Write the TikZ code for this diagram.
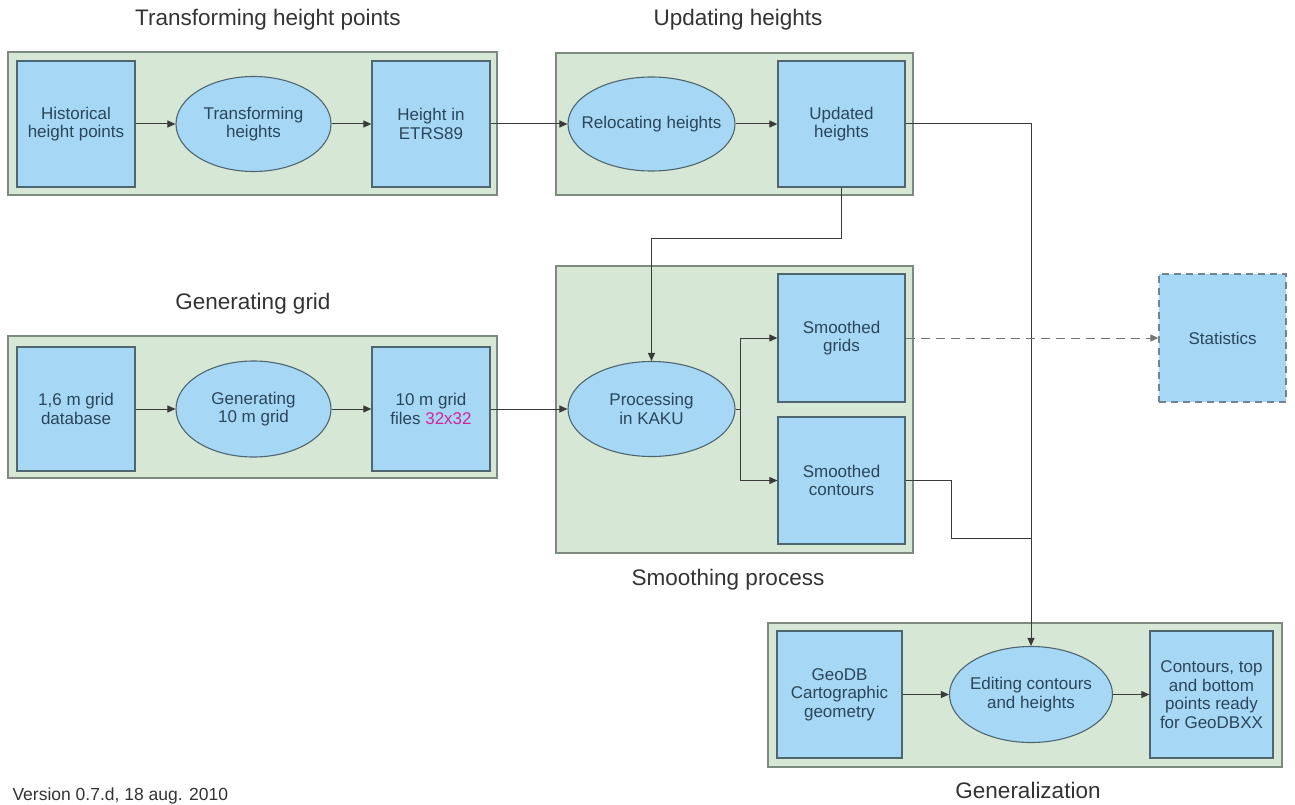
\documentclass[tikz,border=0pt]{standalone}
\usepackage{fontspec}
\setmainfont{Liberation Sans}
\usetikzlibrary{shapes.geometric,arrows.meta}
\definecolor{boxblue}{HTML}{A6D8F5}
\definecolor{boxline}{HTML}{4F6670}
\definecolor{panelfill}{HTML}{D7E7D6}
\definecolor{panelline}{HTML}{7D8A80}
\definecolor{txt}{HTML}{2A465A}
\definecolor{wire}{HTML}{3A3A3A}
\definecolor{pink}{HTML}{D4239C}
\tikzset{
  panel/.style={fill=panelfill,draw=panelline,line width=1.6pt},
  box/.style={rectangle,draw=boxline,fill=boxblue,line width=1.3pt,inner sep=0pt,
    align=center,text=txt,font=\fontsize{17}{18.5}\selectfont},
  ell/.style={ellipse,draw=boxline,fill=boxblue,line width=1.1pt,inner sep=0pt},
  elltext/.style={align=center,text=txt,font=\fontsize{17}{18.5}\selectfont},
  title/.style={font=\fontsize{22.5}{24}\selectfont,text=black!80},
  arr/.style={draw=wire,line width=1pt,-{Triangle[length=8pt,width=7pt]}},
  wireline/.style={draw=wire,line width=1pt},
}
\begin{document}
\begin{tikzpicture}[x=1pt,y=-1pt]
\useasboundingbox (0,0) rectangle (1295,805);
% panels
\path[panel] (8,52) rectangle (497,195);
\path[panel] (556,53) rectangle (913,195);
\path[panel] (8,336) rectangle (497,478);
\path[panel] (556,266) rectangle (913,553);
\path[panel] (768,623) rectangle (1282,767);
% titles
\node[title] (t1) at (268,20) {Transforming height points};
\node[title] (t2) at (738,20) {Updating heights};
\node[title] (t3) at (253,304) {Generating grid};
\node[title] (t4) at (728,580) {Smoothing process};
\node[title] (t5) at (1028,790) {Generalization};
\node[anchor=base west,font=\fontsize{17.5}{18}\selectfont,text=black!80] (ver) at (9,800) {Version 0.7.d, 18 aug. 2010};
% row 1
\node[box,minimum width=118,minimum height=126] (hist) at (76,124) {Historical\\height points};
\node[ell,minimum width=155,minimum height=95] (trans) at (253.5,124) {};
\node[elltext] (transt) at (trans.center) {Transforming\\heights};
\node[box,minimum width=118,minimum height=126] (etrs) at (431,124) {Height in\\ETRS89};
\node[ell,minimum width=167,minimum height=94] (reloc) at (651.5,124) {};
\node[elltext] (reloct) at (reloc.center) {Relocating heights};
\node[box,minimum width=127,minimum height=126] (upd) at (841.5,124) {Updated\\heights};
% row 2
\node[box,minimum width=118,minimum height=124] (g16) at (76,409) {1,6 m grid\\database};
\node[ell,minimum width=155,minimum height=96] (gen) at (253.5,409) {};
\node[elltext] (gent) at (gen.center) {Generating\\10 m grid};
\node[box,minimum width=118,minimum height=124] (g10) at (431,409) {10 m grid\\files \textcolor{pink}{32x32}};
\node[ell,minimum width=167,minimum height=95] (proc) at (651.5,409) {};
\node[elltext] (proct) at (proc.center) {Processing\\in KAKU};
\node[box,minimum width=127,minimum height=128] (sgrid) at (841.5,338) {Smoothed\\grids};
\node[box,minimum width=127,minimum height=127] (scont) at (841.5,480.5) {Smoothed\\contours};
\node[box,dashed,dash pattern=on 7pt off 5pt,draw=boxline!80,minimum width=127,minimum height=128] (stat) at (1222.5,338) {Statistics};
% row 3
\node[box,minimum width=125,minimum height=127] (geodb) at (839.5,694.5) {GeoDB\\Cartographic\\geometry};
\node[ell,minimum width=163,minimum height=96] (edit) at (1031,694.5) {};
\node[elltext] (editt) at (edit.center) {Editing contours\\and heights};
\node[box,minimum width=123,minimum height=127] (ready) at (1211.5,694.5) {Contours, top\\and bottom\\points ready\\for GeoDBXX};
% connectors
\draw[arr] (hist) -- (trans);
\draw[arr] (trans) -- (etrs);
\draw[arr] (etrs) -- (reloc);
\draw[arr] (reloc) -- (upd);
\draw[arr] (upd.east) -| (edit.north);
\draw[arr] (upd.south) -- ++(0,51) -| (proc.north);
\draw[arr] (g16) -- (gen);
\draw[arr] (gen) -- (g10);
\draw[arr] (g10) -- (proc);
\draw[arr] (proc.east) -- ++(5,0) |- (sgrid.west);
\draw[arr] (proc.east) -- ++(5,0) |- (scont.west);
\draw[arr,draw=black!55,dash pattern=on 9pt off 6pt] (sgrid) -- (stat);
\coordinate (join) at (edit.north |- 0,538);
\draw[wireline] (scont.east) -- ++(46,0) |- (join);
\draw[arr] (geodb) -- (edit);
\draw[arr] (edit) -- (ready);
\end{tikzpicture}
\end{document}
